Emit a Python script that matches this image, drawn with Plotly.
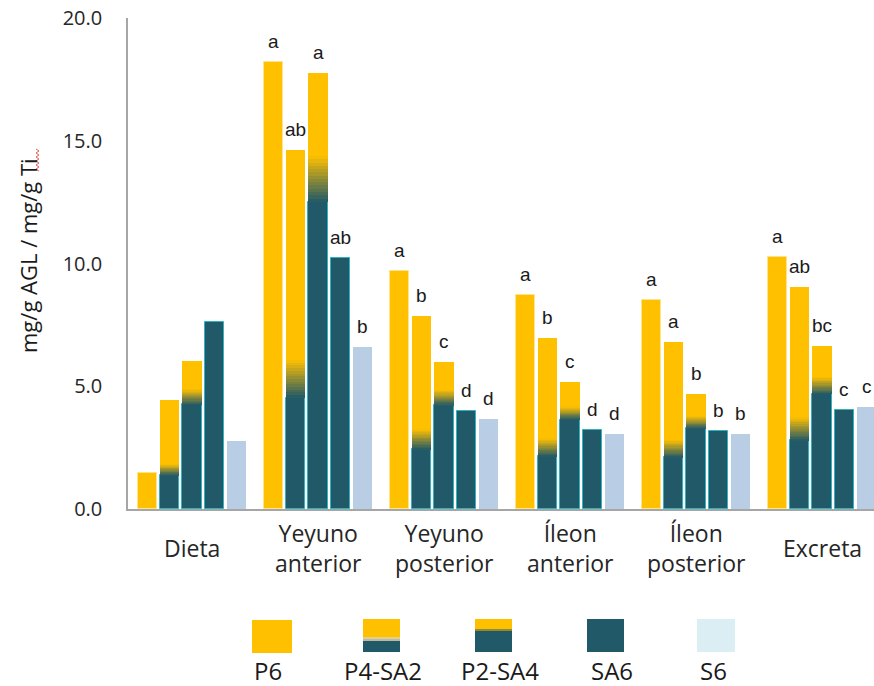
import plotly.graph_objects as go

# ---- data -----------------------------------------------------------------
categories = ["Dieta", "Yeyuno<br>anterior", "Yeyuno<br>posterior",
              "Íleon<br>anterior", "Íleon<br>posterior", "Excreta"]
series = ["P6", "P4-SA2", "P2-SA4", "SA6", "S6"]

p6 = [1.47, 18.22, 9.71, 8.70, 8.50, 10.25]
p4_sa2 = [4.44, 14.62, 7.87, 6.95, 6.82, 9.03]
p2_sa4 = [6.04, 17.75, 6.00, 5.16, 4.67, 6.65]
sa6 = [7.63, 10.22, 3.99, 3.22, 3.16, 4.05]
s6 = [2.78, 6.61, 3.67, 3.05, 3.05, 4.15]

letters_p6 = ["", "a", "a", "a", "a", "a"]
letters_p4_sa2 = ["", "ab", "b", "b", "a", "ab"]
letters_p2_sa4 = ["", "a", "c", "c", "b", "bc"]
letters_sa6 = ["", "ab", "d", "d", "b", "c"]
letters_s6 = ["", "b", "d", "d", "b", "c"]

y_ticks = [0, 5, 10, 15, 20]

# ---- style ----------------------------------------------------------------
YELLOW = (255, 192, 0)
TEAL = (33, 89, 104)
EDGE = "#2fb3c0"
S6_COLOR = "#b9cde5"
S6_LEGEND = "#dbeef4"
AXIS = "#a6a6a6"
FONT = "Open Sans"

PITCH = 0.177
WIDTH = 0.155
N_GRAD = 14

# gradient band (fraction of bar height) for the blended diets
GRAD_BAND = {"P4-SA2": (0.31, 0.415), "P2-SA4": (0.705, 0.81)}


def rgb(c):
    return "rgb(%d,%d,%d)" % tuple(int(round(v)) for v in c)


def mix(t):
    return tuple(TEAL[k] + (YELLOW[k] - TEAL[k]) * t for k in range(3))


values = {"P6": p6, "P4-SA2": p4_sa2, "P2-SA4": p2_sa4, "SA6": sa6, "S6": s6}
letters = {"P6": letters_p6, "P4-SA2": letters_p4_sa2, "P2-SA4": letters_p2_sa4,
           "SA6": letters_sa6, "S6": letters_s6}

fig = go.Figure()


def xpos(j):
    return [i + (j - 2) * PITCH for i in range(len(categories))]


def add_seg(x, base, height, color, line_color=None, lw=0):
    fig.add_trace(go.Bar(
        x=x, y=height, base=base, width=WIDTH,
        marker=dict(color=color,
                    line=dict(color=line_color or color, width=lw)),
        showlegend=False, hoverinfo="skip"))


for j, name in enumerate(series):
    x = xpos(j)
    vals = values[name]
    if name == "P6":
        add_seg(x, [0] * len(vals), vals, rgb(YELLOW), "#ffe38a", 1)
    elif name == "SA6":
        add_seg(x, [0] * len(vals), vals, rgb(TEAL), EDGE, 1)
    elif name == "S6":
        add_seg(x, [0] * len(vals), vals, S6_COLOR)
    else:
        g0, g1 = GRAD_BAND[name]
        add_seg(x, [0] * len(vals), [v * g0 for v in vals], rgb(TEAL), EDGE, 1)
        for k in range(N_GRAD):
            f0 = g0 + (g1 - g0) * k / N_GRAD
            f1 = g0 + (g1 - g0) * (k + 1) / N_GRAD
            add_seg(x, [v * f0 for v in vals], [v * (f1 - f0) for v in vals],
                    rgb(mix((k + 0.5) / N_GRAD)))
        add_seg(x, [v * g1 for v in vals], [v * (1 - g1) for v in vals],
                rgb(YELLOW))

    # significance letters above each bar
    for i, (xv, v, lab) in enumerate(zip(x, vals, letters[name])):
        if lab:
            fig.add_annotation(x=xv, y=v, text=lab, showarrow=False,
                               xref="x", yref="y", yanchor="bottom", yshift=8,
                               font=dict(family="Liberation Sans", size=19,
                                         color="#1a1a1a"))

# category labels, vertically centred under each group
for i, cat in enumerate(categories):
    fig.add_annotation(x=i, y=-0.0795, xref="x", yref="paper", text=cat,
                       showarrow=False, yanchor="middle",
                       font=dict(family=FONT, size=23, color="#262626"))

# ---- layout helpers (pixel -> paper) ---------------------------------------
L, R, T, B = 128, 874, 18, 509


def px(xp):
    return (xp - L) / (R - L)


def py(yp):
    return (B - yp) / (B - T)


shapes = []


def rect(x0, x1, y0, y1, color):
    shapes.append(dict(type="rect", xref="paper", yref="paper",
                       x0=px(x0), x1=px(x1), y0=py(y1), y1=py(y0),
                       fillcolor=color, line=dict(width=0), layer="above"))


# legend swatches
rect(252, 292, 620, 653, rgb(YELLOW))

rect(363, 400, 619, 652, rgb(TEAL))
rect(363, 400, 619, 637, rgb(YELLOW))
rect(363, 400, 637, 639, "#e3cf8c")
rect(363, 400, 639, 641, "#b9b9a6")

rect(475, 512, 619, 652, rgb(TEAL))
rect(475, 512, 619, 629, rgb(YELLOW))
rect(475, 512, 629, 631, rgb(mix(0.5)))

rect(587, 624, 619, 652, rgb(TEAL))
rect(697, 735, 619, 652, S6_LEGEND)

legend_x = [268, 383, 500, 612, 713]
for name, lx in zip(series, legend_x):
    fig.add_annotation(x=px(lx), y=py(670), xref="paper", yref="paper",
                       text=name, showarrow=False, xanchor="center",
                       yanchor="middle", borderpad=0,
                       font=dict(family=FONT, size=24, color="#1a1a1a"))

# y-axis title (rotated)
fig.add_annotation(x=px(28), y=py(256), xref="paper", yref="paper",
                   text="mg/g AGL / mg/g Ti", textangle=-90, showarrow=False,
                   xanchor="center", yanchor="middle",
                   font=dict(family=FONT, size=22, color="#1a1a1a"))

# spell-check squiggle under "Ti"
pts = []
yy = 149
k = 0
while yy <= 171:
    pts.append((36 if k % 2 == 0 else 39, yy))
    yy += 2
    k += 1
path = "M " + " L ".join("%f,%f" % (px(a), py(b)) for a, b in pts)
shapes.append(dict(type="path", xref="paper", yref="paper", path=path,
                   line=dict(color="#ef5a55", width=1)))

fig.update_layout(
    width=874, height=686,
    margin=dict(l=L, r=874 - R, t=T, b=686 - B),
    paper_bgcolor="white", plot_bgcolor="white",
    barmode="overlay", bargap=0,
    showlegend=False,
    shapes=shapes,
    xaxis=dict(range=[-0.508, (R - 192) / 126], showgrid=False,
               zeroline=False, showticklabels=False, ticks="",
               showline=True, linecolor=AXIS, linewidth=1.5),
    yaxis=dict(range=[0, 20], tickvals=y_ticks,
               ticktext=["%.1f" % v for v in y_ticks], showgrid=False,
               zeroline=False, ticks="", showline=True, linecolor=AXIS,
               linewidth=1.5, ticklabelstandoff=20,
               tickfont=dict(family=FONT, size=20, color="#262626")),
)

fig.write_html("out.html")
